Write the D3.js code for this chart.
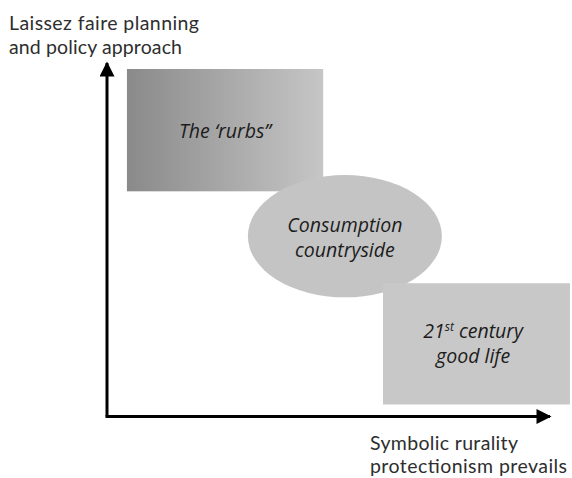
<!DOCTYPE html>
<html>
<head>
<meta charset="utf-8">
<script src="https://cdn.jsdelivr.net/npm/d3@7"></script>
<style>
  html, body { margin: 0; padding: 0; background: #fff; }
  svg { display: block; }
  .axis-label { font-family: Lato, "Open Sans", sans-serif; font-size: 19.5px; fill: #2e2e2e; }
  .zone-label { font-family: "Open Sans", sans-serif; font-style: italic; font-size: 19.5px; fill: #1c1c1c; }
</style>
</head>
<body>
<svg id="chart" width="572" height="478"></svg>
<script>
// conceptual positions, 0–100 on each axis
const zoneNames = ["The \u2018rurbs\u201d", "Consumption countryside", "21st century good life"];
const zoneShapes = ["rect", "ellipse", "rect"];
const zoneX0 = [4.5, 31.8, 62.3];
const zoneX1 = [48.8, 75.6, 104.5];
const zoneY0 = [63.7, 33.7, 3.4];
const zoneY1 = [98.3, 68.3, 37.7];
const yAxisLabel = ["Laissez faire planning", "and policy approach"];
const xAxisLabel = ["Symbolic rurality", "protectionism prevails"];

const W = 572, H = 478;
const svg = d3.select('#chart');

const x = d3.scaleLinear().domain([0, 100]).range([107, 550]);
const y = d3.scaleLinear().domain([0, 100]).range([416.5, 63]);

const defs = svg.append('defs');
const grad = defs.append('linearGradient').attr('id', 'rurbsGrad');
grad.append('stop').attr('offset', '0%').attr('stop-color', '#8a8a8a');
grad.append('stop').attr('offset', '100%').attr('stop-color', '#c6c6c6');

defs.append('marker').attr('id', 'arrow')
  .attr('viewBox', '0 0 10 10').attr('refX', 9).attr('refY', 5)
  .attr('markerWidth', 5.5).attr('markerHeight', 5)
  .attr('markerUnits', 'strokeWidth').attr('orient', 'auto')
  .append('path').attr('d', 'M0,0 L10,5 L0,10 Z').attr('fill', '#000');

const zones = zoneNames.map((name, i) => ({
  name, shape: zoneShapes[i], x0: zoneX0[i], x1: zoneX1[i], y0: zoneY0[i], y1: zoneY1[i]
}));

const fills = ['url(#rurbsGrad)', '#c4c4c4', '#c8c8c8'];

// boxes and ellipse
zones.forEach((d, i) => {
  if (d.shape === 'rect') {
    svg.append('rect')
      .attr('x', x(d.x0)).attr('y', y(d.y1))
      .attr('width', x(d.x1) - x(d.x0)).attr('height', y(d.y0) - y(d.y1))
      .attr('fill', fills[i]);
  } else {
    svg.append('ellipse')
      .attr('cx', x((d.x0 + d.x1) / 2)).attr('cy', y((d.y0 + d.y1) / 2))
      .attr('rx', (x(d.x1) - x(d.x0)) / 2).attr('ry', (y(d.y0) - y(d.y1)) / 2)
      .attr('fill', fills[i]);
  }
});

// zone labels
const lab = svg.append('g');
// rurbs
lab.append('text').attr('class', 'zone-label').attr('text-anchor', 'middle')
  .attr('x', x((zones[0].x0 + zones[0].x1) / 2)).attr('y', y((zones[0].y0 + zones[0].y1) / 2) + 8)
  .text(zones[0].name);
// consumption countryside
const cc = zones[1].name.split(' ');
const ccx = x((zones[1].x0 + zones[1].x1) / 2), ccy = y((zones[1].y0 + zones[1].y1) / 2);
lab.append('text').attr('class', 'zone-label').attr('text-anchor', 'middle')
  .attr('x', ccx).attr('y', ccy - 4).text(cc[0]);
lab.append('text').attr('class', 'zone-label').attr('text-anchor', 'middle')
  .attr('x', ccx).attr('y', ccy + 21).text(cc[1]);
// 21st century good life
const gx = x((zones[2].x0 + 103) / 2), gy = y((zones[2].y0 + zones[2].y1) / 2);
const t1 = lab.append('text').attr('class', 'zone-label').attr('text-anchor', 'middle')
  .attr('x', gx).attr('y', gy - 6);
t1.append('tspan').text('21');
t1.append('tspan').attr('dy', -7).attr('font-size', 12).text('st');
t1.append('tspan').attr('dy', 7).text(' century');
lab.append('text').attr('class', 'zone-label').attr('text-anchor', 'middle')
  .attr('x', gx).attr('y', gy + 19).text('good life');

// axes with arrowheads
svg.append('line')
  .attr('x1', x(0)).attr('y1', y(0)).attr('x2', x(0)).attr('y2', y(100))
  .attr('stroke', '#000').attr('stroke-width', 3).attr('marker-end', 'url(#arrow)');
svg.append('line')
  .attr('x1', x(0) - 1.5).attr('y1', y(0)).attr('x2', x(100)).attr('y2', y(0))
  .attr('stroke', '#000').attr('stroke-width', 3).attr('marker-end', 'url(#arrow)');

// axis labels, one text per line, stretched to the reference widths
const yW = [190, 173], xW = [148, 197];
yAxisLabel.forEach((s, i) => svg.append('text').attr('class', 'axis-label')
  .attr('x', 9).attr('y', 30 + i * 24).attr('textLength', yW[i]).attr('lengthAdjust', 'spacing').text(s));
xAxisLabel.forEach((s, i) => svg.append('text').attr('class', 'axis-label')
  .attr('x', 370).attr('y', 450 + i * 22.5).attr('textLength', xW[i]).attr('lengthAdjust', 'spacing').text(s));
</script>
</body>
</html>
